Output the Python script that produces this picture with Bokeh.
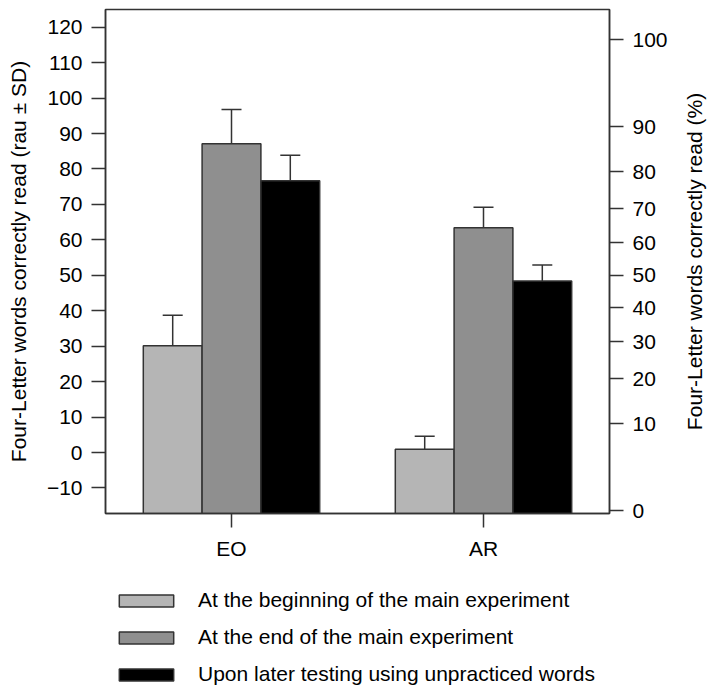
import math
from bokeh.plotting import figure
from bokeh.layouts import column, row
from bokeh.models import (Range1d, FixedTicker, LinearAxis, ColumnDataSource,
                          Whisker, TeeHead, Legend, LegendItem)
from bokeh.embed import file_html
from bokeh.resources import INLINE

# ---------------- data ----------------
categories = ["EO", "AR"]
series_labels = [
    "At the beginning of the main experiment",
    "At the end of the main experiment",
    "Upon later testing using unpracticed words",
]
beginning_mean = [30.1, 0.9]
beginning_sd = [8.6, 3.7]
end_mean = [87.1, 63.4]
end_sd = [9.7, 5.8]
later_mean = [76.7, 48.4]
later_sd = [7.2, 4.5]

left_ticks = [-10, 0, 10, 20, 30, 40, 50, 60, 70, 80, 90, 100, 110, 120]
right_tick_percent = [0, 10, 20, 30, 40, 50, 60, 70, 80, 90, 100]
RAU_N = 50  # number of items used for the rau transform of the right axis

left_title = "Four-Letter words correctly read (rau \u00b1 SD)"
right_title = "Four-Letter words correctly read (%)"

colors = ["#b5b5b5", "#8f8f8f", "#000000"]
FONT = "Liberation Sans"
FS = "21px"
EDGE = "#333333"


def rau(pct, n=RAU_N):
    x = pct / 100.0 * n
    t = math.asin(math.sqrt(x / (n + 1))) + math.asin(math.sqrt((x + 1) / (n + 1)))
    return round(146.0 / math.pi * t - 23.0, 4)


y_start, y_end = -17.2, 125.0
W_LAB = 30
W_MAIN = 707 - W_LAB
H_MAIN = 565
H_LEG = 687 - H_MAIN
B_TOP, B_BOTTOM = 9, H_MAIN - 513

p = figure(width=W_MAIN, height=H_MAIN, output_backend="svg", toolbar_location=None,
           x_range=Range1d(0.5, 2.5), y_range=Range1d(y_start, y_end),
           min_border_left=105, min_border_right=W_MAIN - 609, min_border_top=B_TOP,
           min_border_bottom=B_BOTTOM)
p.grid.visible = False
p.outline_line_color = EDGE
p.outline_line_width = 1.5
p.background_fill_color = "white"
p.border_fill_color = "white"


def style_axis(ax):
    ax.axis_line_color = EDGE
    ax.axis_line_width = 1.5
    ax.major_tick_line_color = EDGE
    ax.major_tick_line_width = 1.5
    ax.major_tick_out = 14
    ax.major_tick_in = 0
    ax.minor_tick_out = 0
    ax.minor_tick_in = 0
    ax.major_label_text_font = FONT
    ax.major_label_text_font_size = FS
    ax.major_label_text_color = "black"
    ax.axis_label_text_font = FONT
    ax.axis_label_text_font_size = FS
    ax.axis_label_text_font_style = "normal"
    ax.axis_label_text_color = "black"


# x axis
xa = p.xaxis[0]
style_axis(xa)
xa.ticker = FixedTicker(ticks=[1, 2])
xa.major_label_overrides = {i + 1: c for i, c in enumerate(categories)}
xa.major_label_standoff = 9

# left axis
ya = p.yaxis[0]
style_axis(ya)
ya.ticker = FixedTicker(ticks=left_ticks)
ya.major_label_overrides = {t: (str(t) if t >= 0 else "\u2212" + str(-t)) for t in left_ticks}
ya.major_label_standoff = 9
ya.axis_label = left_title
ya.axis_label_standoff = 14

# right axis (percent, rau-transformed positions)
right_pos = [rau(v) for v in right_tick_percent]
ra = LinearAxis(ticker=FixedTicker(ticks=right_pos),
                major_label_overrides={pos: str(v) for pos, v in zip(right_pos, right_tick_percent)})
style_axis(ra)
ra.major_label_standoff = 9
p.add_layout(ra, "right")

# bars
bar_w = 0.7 / 3
offsets = [-bar_w, 0.0, bar_w]
means = [beginning_mean, end_mean, later_mean]
sds = [beginning_sd, end_sd, later_sd]
for k in range(3):
    xs = [i + 1 + offsets[k] for i in range(len(categories))]
    src = ColumnDataSource(dict(
        x=xs, top=means[k], bottom=[y_start] * len(xs),
        upper=[m + s for m, s in zip(means[k], sds[k])],
        lower=[m - s for m, s in zip(means[k], sds[k])],
    ))
    p.vbar(x="x", top="top", bottom="bottom", width=bar_w, source=src,
           fill_color=colors[k], line_color=EDGE, line_width=1.5)
    w = Whisker(base="x", upper="upper", lower="lower", source=src,
                dimension="height", line_color=EDGE, line_width=1.5,
                upper_head=TeeHead(size=20, line_color=EDGE, line_width=1.5),
                lower_head=TeeHead(size=20, line_color=EDGE, line_width=1.5))
    p.add_layout(w)

# ---------------- right-hand axis title (reads bottom-to-top) ----------------
plab = figure(width=W_LAB, height=H_MAIN, output_backend="svg", toolbar_location=None,
              x_range=Range1d(0, 1), y_range=p.y_range,
              x_axis_type=None, y_axis_type=None,
              min_border_left=W_LAB - 1, min_border_right=1,
              min_border_top=B_TOP, min_border_bottom=B_BOTTOM)
plab.outline_line_color = None
plab.background_fill_color = "white"
plab.border_fill_color = "white"
lab_axis = LinearAxis(ticker=FixedTicker(ticks=[]), axis_label=right_title,
                      axis_line_color=None, major_tick_out=0, major_tick_in=0,
                      minor_tick_out=0, minor_tick_in=0,
                      major_label_standoff=0, axis_label_standoff=1)
lab_axis.axis_label_text_font = FONT
lab_axis.axis_label_text_font_size = FS
lab_axis.axis_label_text_font_style = "normal"
lab_axis.axis_label_text_color = "black"
plab.add_layout(lab_axis, "left")

# ---------------- legend panel ----------------
pl = figure(width=707, height=H_LEG, output_backend="svg", toolbar_location=None,
            x_range=Range1d(0, 1), y_range=Range1d(0, 1),
            x_axis_type=None, y_axis_type=None,
            min_border_left=105, min_border_top=16, min_border_right=98,
            min_border_bottom=0)
pl.outline_line_color = None
pl.background_fill_color = "white"
pl.border_fill_color = "white"
leg_renderers = []
for k in range(3):
    # legend keys only: hidden renderers carrying the series styles
    r = pl.vbar(x=[0.5], top=[0.5], width=0.1, fill_color=colors[k],
                line_color=EDGE, line_width=1.5, visible=False)
    leg_renderers.append(r)

legend = Legend(items=[LegendItem(label=series_labels[k], renderers=[leg_renderers[k]]) for k in range(3)],
                location="top_left", orientation="vertical",
                glyph_width=68, glyph_height=15, label_standoff=18, spacing=13,
                padding=7, margin=0, border_line_alpha=0, background_fill_alpha=0,
                inactive_fill_alpha=0,
                label_text_font=FONT, label_text_font_size=FS, label_height=15,
                label_text_color="black")
pl.add_layout(legend)

layout = column(row(p, plab, spacing=0), pl, spacing=0)
open("out.html", "w").write(file_html(layout, INLINE))
